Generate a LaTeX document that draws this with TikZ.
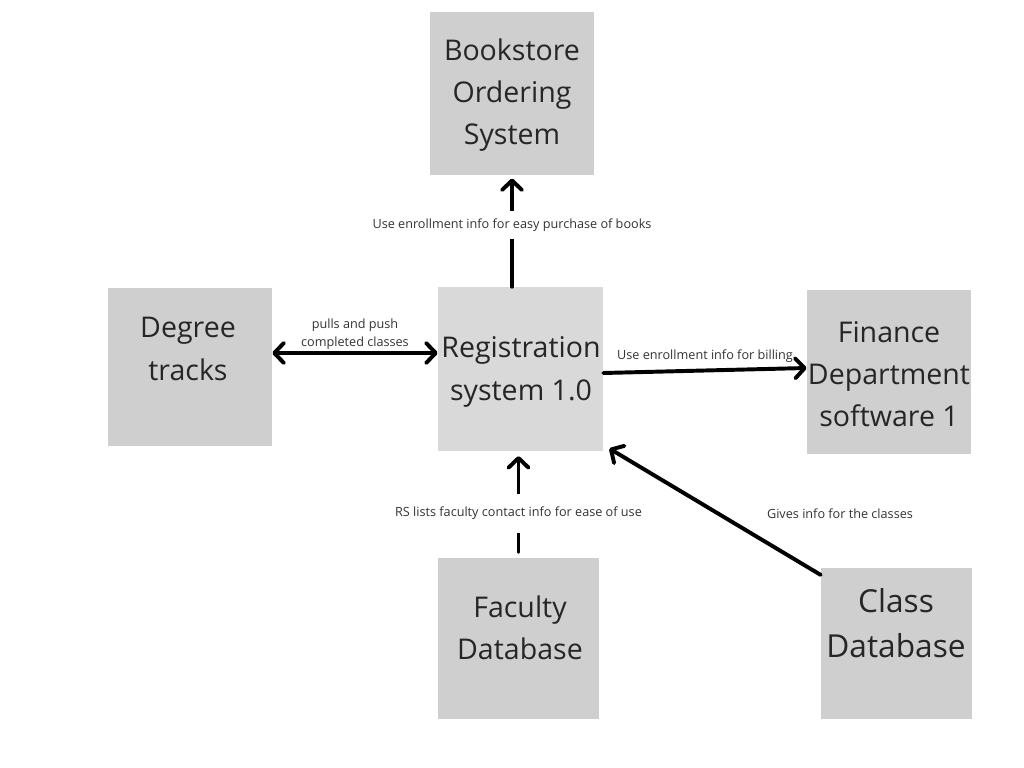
\documentclass[tikz,border=0pt]{standalone}
\usepackage{fontspec}
\setmainfont{Open Sans}
\usetikzlibrary{arrows.meta}
\definecolor{boxgray}{RGB}{207,207,207}
\definecolor{reggray}{RGB}{217,217,217}
\tikzset{
  sysbox/.style={fill=boxgray,draw=none,inner sep=0pt},
  bigtxt/.style={align=center,font=\fontsize{20.3}{30}\selectfont,text=black!85},
  smalltxt/.style={align=center,font=\fontsize{9}{12.8}\selectfont,text=black!80,inner sep=1pt},
  flow/.style={line width=2.8pt,line cap=round,line join=round},
  tip/.style={-{Straight Barb[length=2.4mm,width=5mm,line cap=round,line join=round]}}
}
\begin{document}
\begin{tikzpicture}[x=0.025cm,y=-0.025cm]
\useasboundingbox[fill=white] (0,0) rectangle (1024,768);
% boxes
\node[sysbox,minimum width=4.1cm,minimum height=4.075cm] (book) at (512,93.5) {};
\node[sysbox,minimum width=4.1cm,minimum height=3.95cm] (deg) at (190,367) {};
\node[sysbox,fill=reggray,minimum width=4.125cm,minimum height=4.1cm] (reg) at (520.5,369) {};
\node[sysbox,minimum width=4.1cm,minimum height=4.1cm] (fin) at (889,372) {};
\node[sysbox,minimum width=4.025cm,minimum height=4.025cm] (fac) at (518.5,638.5) {};
\node[sysbox,minimum width=3.775cm,minimum height=3.775cm] (cls) at (896.5,643.5) {};
% box texts
\node[bigtxt] (booktxt) at (512,95) {Bookstore\\Ordering\\System};
\node[bigtxt] (degtxt) at (188,349) {Degree\\tracks};
\node[bigtxt] (regtxt) at (521,372) {Registration\\system 1.0};
\node[bigtxt] (fintxt) at (889,374) {Finance\\Department\\software 1};
\node[bigtxt] (factxt) at (520,628) {Faculty\\Database};
\node[bigtxt,font=\fontsize{22.5}{32.5}\selectfont] (clstxt) at (896,623) {Class\\Database};
% connectors
\draw[flow,tip] (book.south |- reg.north) -- node[pos=0.57,smalltxt,fill=white,inner ysep=0.2cm] (booklbl) {Use enrollment info for easy purchase of books} ([yshift=-0.08cm]book.south);
\draw[flow,{Straight Barb[length=2.4mm,width=5mm,line cap=round,line join=round]}-{Straight Barb[length=2.4mm,width=5mm,line cap=round,line join=round]}] ([yshift=0.35cm]deg.east) -- node[above,smalltxt] (deglbl) {pulls and push\\completed classes} ([yshift=0.35cm]deg.east -| reg.west);
\draw[flow,tip] ([yshift=-0.1cm]reg.east) -- node[above,smalltxt,yshift=0.12cm] (finlbl) {Use enrollment info for billing} ([yshift=0.1cm]fin.west);
\draw[flow,tip] ([yshift=0.15cm]fac.north) -- node[pos=0.4,smalltxt,fill=white,inner ysep=0.32cm] (faclbl) {RS lists faculty contact info for ease of use} ([yshift=-0.12cm]fac.north |- reg.south);
\draw[flow,tip] ([yshift=-0.18cm]cls.north west) -- ([xshift=0.15cm,yshift=0.07cm]reg.south east);
\node[smalltxt] (clslbl) at (840,514) {Gives info for the classes};
\end{tikzpicture}
\end{document}
